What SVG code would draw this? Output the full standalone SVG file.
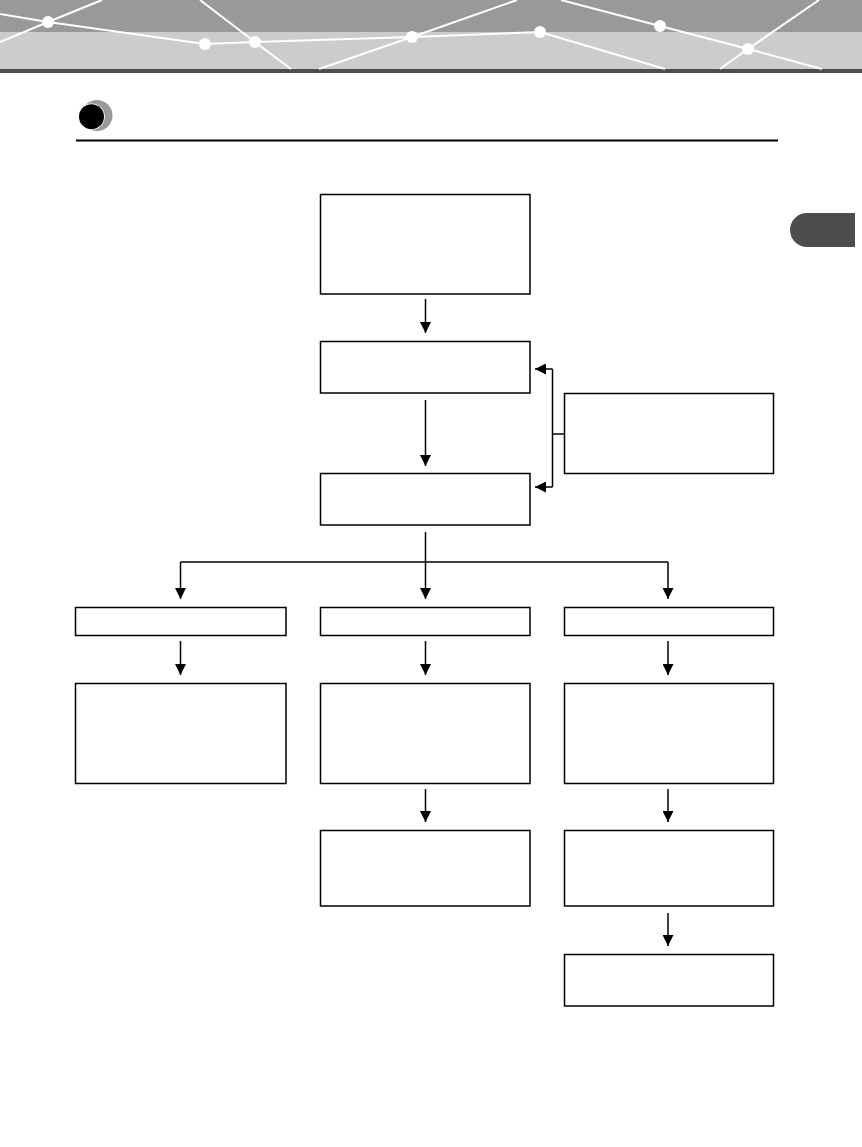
<svg xmlns="http://www.w3.org/2000/svg" width="862" height="1147" viewBox="0 0 862 1147">
<style>
.box{fill:#fff;stroke:#000;stroke-width:1.5}
.conn{fill:none;stroke:#000;stroke-width:1.5}
.hl{fill:none;stroke:#fff;stroke-width:2}
.dot{fill:#fff}
</style>
<defs>
<marker id="ah" markerUnits="userSpaceOnUse" markerWidth="11" markerHeight="11" viewBox="0 0 10 10" refX="10" refY="5" orient="auto">
<path d="M0,0 L10,5 L0,10 z" fill="#000"/>
</marker>
</defs>
<rect width="862" height="1147" fill="#fff"/>
<g id="header">
<rect x="0" y="0" width="862" height="32" fill="#999"/>
<rect x="0" y="32" width="862" height="37" fill="#ccc"/>
<rect x="0" y="69" width="862" height="4" fill="#4d4d4d"/>
<polyline class="hl" points="0,14 48,22 205,44 255,42 412,37 540,32 665,69"/>
<polyline class="hl" points="0,42 48,22 102,0"/>
<polyline class="hl" points="200,0 255,42 291,69"/>
<polyline class="hl" points="319,69 412,37 517,0"/>
<polyline class="hl" points="561,0 660,26 748,49 822,69"/>
<polyline class="hl" points="819,0 748,49 720,69"/>
<circle class="dot" cx="48" cy="22" r="6"/>
<circle class="dot" cx="205" cy="44" r="6"/>
<circle class="dot" cx="255" cy="42" r="6"/>
<circle class="dot" cx="412" cy="37" r="6"/>
<circle class="dot" cx="540" cy="32" r="6"/>
<circle class="dot" cx="660" cy="26" r="6"/>
<circle class="dot" cx="748" cy="49" r="6"/>
</g>
<g id="title">
<circle cx="97" cy="115.5" r="15.5" fill="#999"/>
<circle cx="91.5" cy="116.7" r="13.3" fill="#fff"/>
<circle cx="91.5" cy="116.7" r="12.5" fill="#000"/>
<rect x="76" y="139.5" width="702" height="2" fill="#000"/>
<path d="M807,213 H855 V247 H807 A17,17 0 0 1 807,213 z" fill="#4d4d4d"/>
</g>
<g id="connectors">
<path class="conn" d="M425.5,299 V333" marker-end="url(#ah)"/>
<path class="conn" d="M425.5,400 V466" marker-end="url(#ah)"/>
<path class="conn" d="M564,434 H552.5"/>
<path class="conn" d="M552.5,369 V487"/>
<path class="conn" d="M552.5,369 H535" marker-end="url(#ah)"/>
<path class="conn" d="M552.5,487 H535" marker-end="url(#ah)"/>
<path class="conn" d="M425.5,532 V599" marker-end="url(#ah)"/>
<path class="conn" d="M180.5,562 H668"/>
<path class="conn" d="M180.5,562 V599" marker-end="url(#ah)"/>
<path class="conn" d="M668,562 V599" marker-end="url(#ah)"/>
<path class="conn" d="M180.5,641 V675" marker-end="url(#ah)"/>
<path class="conn" d="M425.5,641 V675" marker-end="url(#ah)"/>
<path class="conn" d="M668,641 V675" marker-end="url(#ah)"/>
<path class="conn" d="M425.5,789 V822" marker-end="url(#ah)"/>
<path class="conn" d="M668,789 V822" marker-end="url(#ah)"/>
<path class="conn" d="M668,913 V946" marker-end="url(#ah)"/>
</g>
<g id="n1"><rect class="box" x="320.5" y="194.5" width="209.5" height="99.5"/></g>
<g id="n2"><rect class="box" x="320.5" y="341.5" width="209.5" height="51.5"/></g>
<g id="n3"><rect class="box" x="320.5" y="473.5" width="209.5" height="51.5"/></g>
<g id="n4"><rect class="box" x="564.5" y="393.5" width="209" height="80"/></g>
<g id="n5"><rect class="box" x="75.5" y="607.5" width="210.5" height="28"/></g>
<g id="n6"><rect class="box" x="320.5" y="607.5" width="209.5" height="28"/></g>
<g id="n7"><rect class="box" x="564.5" y="607.5" width="209" height="28"/></g>
<g id="n8"><rect class="box" x="75.5" y="683.5" width="210.5" height="100"/></g>
<g id="n9"><rect class="box" x="320.5" y="683.5" width="209.5" height="100"/></g>
<g id="n10"><rect class="box" x="564.5" y="683.5" width="209" height="100"/></g>
<g id="n11"><rect class="box" x="320.5" y="830.5" width="209.5" height="75.5"/></g>
<g id="n12"><rect class="box" x="564.5" y="830.5" width="209" height="75.5"/></g>
<g id="n13"><rect class="box" x="564.5" y="954.5" width="209" height="51.5"/></g>
</svg>
